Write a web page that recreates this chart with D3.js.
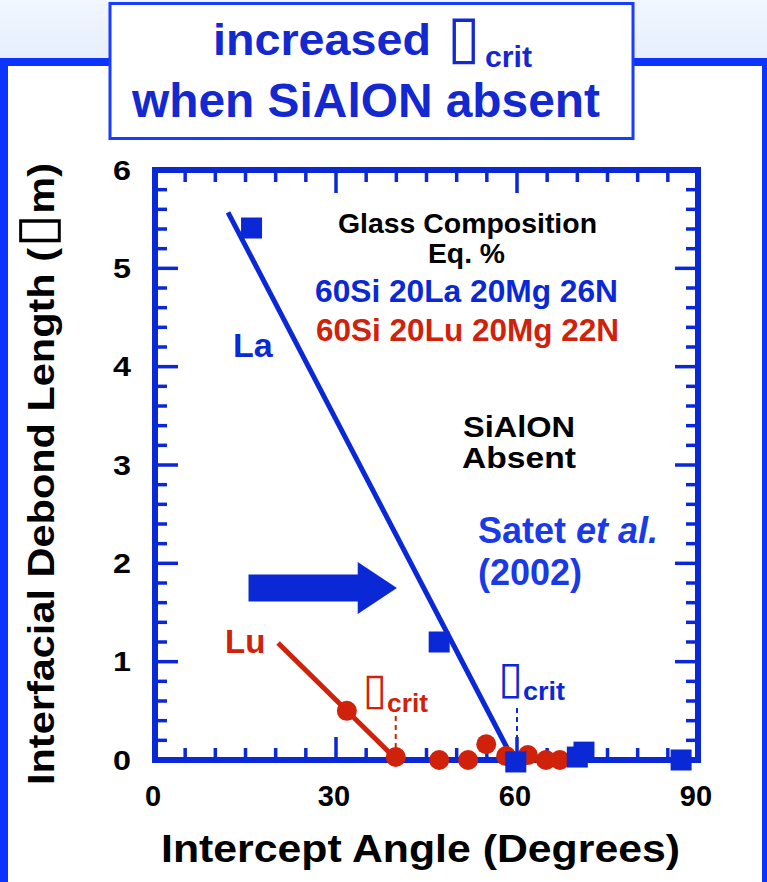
<!DOCTYPE html>
<html>
<head>
<meta charset="utf-8">
<script src="https://cdn.jsdelivr.net/npm/d3@7"></script>
<style>
  html, body { margin: 0; padding: 0; background: #fff; }
  svg { display: block; }
  text { font-family: "Liberation Sans", Arial, Helvetica, sans-serif; font-weight: bold; }
  .box { font-family: "DejaVu Sans"; font-weight: normal; }
</style>
</head>
<body>
<svg id="chart" width="767" height="882"></svg>
<script>
// Debond length vs. intercept angle for two oxynitride glasses
const xTicks = [0, 30, 60, 90];
const yTicks = [0, 1, 2, 3, 4, 5, 6];

// La glass (squares): [angle, debond length]
const laPoints = [[16.0, 5.41], [47.1, 1.20], [59.8, -0.02], [70.0, 0.03], [71.1, 0.08], [87.2, 0.0]];
// Lu glass (circles)
const luPoints = [[31.8, 0.50], [39.9, 0.03], [47.1, 0.0], [51.9, 0.0], [54.9, 0.16], [58.2, 0.04],
                  [60.0, -0.02], [61.8, 0.05], [64.8, 0.0], [67.1, 0.0]];
// Trend lines
const laTrend = [[12.1, 5.57], [59.4, 0.0]];
const luTrend = [[20.4, 1.19], [40.1, 0.0]];
// Critical angles
const critLa = 60.0;
const critLu = 39.9;

const BLUE = "#0a28d6";
const RED = "#d0220a";
const FRAME = "#0b34ff";
const TBLUE = "#1428d2";

const svg = d3.select("#chart");

// Background: pale gradient band above the frame
const defs = svg.append("defs");
const grad = defs.append("linearGradient").attr("id", "bg").attr("x1", 0).attr("y1", 0).attr("x2", 0).attr("y2", 1);
grad.append("stop").attr("offset", "0%").attr("stop-color", "#f1f7ff");
grad.append("stop").attr("offset", "100%").attr("stop-color", "#e5eefc");
svg.append("rect").attr("x", 0).attr("y", 0).attr("width", 767).attr("height", 62).attr("fill", "url(#bg)");

// Outer panel frame
svg.append("path")
  .attr("d", "M4,882 V62 H764.5 V882")
  .attr("fill", "none").attr("stroke", FRAME).attr("stroke-width", 8);
svg.append("rect").attr("x", 8).attr("y", 66).attr("width", 754).attr("height", 816).attr("fill", "#fff");

// Title box
svg.append("rect").attr("x", 110).attr("y", 3.5).attr("width", 523).attr("height", 135)
  .attr("fill", "#fff").attr("stroke", "#1a3cff").attr("stroke-width", 3);

// Symbol followed by a "crit" subscript placed right after the symbol's advance
function symbolWithSub(parent, opts) {
  const t = parent.append("text").attr("fill", opts.color);
  if (opts.lead) {
    t.append("tspan").attr("x", opts.lead.x).attr("y", opts.lead.y).attr("font-size", opts.lead.size)
      .attr("textLength", opts.lead.len).attr("lengthAdjust", "spacingAndGlyphs").text(opts.lead.text);
  }
  const sym = t.append("tspan").attr("class", "box").attr("y", opts.symBase)
    .attr("font-size", opts.symSize).text("▯");
  const adv = sym.node().getComputedTextLength();
  sym.attr("x", opts.subX - adv - opts.gap);
  t.append("tspan").attr("x", opts.subX).attr("y", opts.subBase).attr("font-size", opts.subSize)
    .attr("textLength", opts.subLen).attr("lengthAdjust", "spacingAndGlyphs").text("crit");
  return t;
}

symbolWithSub(svg, {
  color: TBLUE,
  lead: { x: 213, y: 55, size: 45, len: 218, text: "increased" },
  symBase: 57, symSize: 60, subX: 485, subBase: 67, subSize: 29, subLen: 47, gap: 5
});

svg.append("text").attr("x", 132).attr("y", 117).attr("font-size", 48).attr("fill", TBLUE)
  .attr("textLength", 468).attr("lengthAdjust", "spacingAndGlyphs")
  .text("when SiAlON absent");

// Scales
const x = d3.scaleLinear().domain([0, 90]).range([155, 698]);
const y = d3.scaleLinear().domain([0, 6]).range([760, 170]);

const plot = svg.append("g");

// Inward ticks on all four sides
const xMinor = d3.range(5, 90, 5);
const yMinor = d3.range(0.2, 6, 0.2).map(v => +v.toFixed(1));
const isMajorX = v => v % 30 === 0;
const isMajorY = v => Math.abs(v - Math.round(v)) < 1e-6;

plot.selectAll("line.xb").data(xMinor).join("line")
  .attr("x1", d => x(d)).attr("x2", d => x(d))
  .attr("y1", y(0)).attr("y2", d => y(0) - (isMajorX(d) ? 23 : 12))
  .attr("stroke", BLUE).attr("stroke-width", 3.5);
plot.selectAll("line.xt").data(xMinor).join("line")
  .attr("x1", d => x(d)).attr("x2", d => x(d))
  .attr("y1", y(6)).attr("y2", d => y(6) + (isMajorX(d) ? 23 : 12))
  .attr("stroke", BLUE).attr("stroke-width", 3.5);
plot.selectAll("line.yl").data(yMinor).join("line")
  .attr("y1", d => y(d)).attr("y2", d => y(d))
  .attr("x1", x(0)).attr("x2", d => x(0) + (isMajorY(d) ? 23 : 12))
  .attr("stroke", BLUE).attr("stroke-width", 3.5);
plot.selectAll("line.yr").data(yMinor).join("line")
  .attr("y1", d => y(d)).attr("y2", d => y(d))
  .attr("x1", x(90)).attr("x2", d => x(90) - (isMajorY(d) ? 23 : 12))
  .attr("stroke", BLUE).attr("stroke-width", 3.5);

// Plot frame
plot.append("rect").attr("x", x(0)).attr("y", y(6))
  .attr("width", x(90) - x(0)).attr("height", y(0) - y(6))
  .attr("fill", "none").attr("stroke", BLUE).attr("stroke-width", 6);

// Tick labels
svg.selectAll("text.xl").data(xTicks).join("text")
  .attr("x", d => x(d) - 2).attr("y", 806).attr("font-size", 29)
  .attr("text-anchor", "middle").attr("fill", "#000").text(d => d);
svg.selectAll("text.yl").data(yTicks).join("text")
  .attr("x", 131).attr("y", d => y(d) + 9.5).attr("font-size", 27)
  .attr("text-anchor", "end").attr("fill", "#000")
  .attr("textLength", 18).attr("lengthAdjust", "spacingAndGlyphs").text(d => d);

// Axis titles
svg.append("text").attr("x", 161).attr("y", 862).attr("font-size", 38).attr("fill", "#000")
  .attr("textLength", 519).attr("lengthAdjust", "spacingAndGlyphs")
  .text("Intercept Angle (Degrees)");
const yt = svg.append("text").attr("transform", "translate(54,785) rotate(-90)")
  .attr("font-size", 36).attr("fill", "#000")
  .attr("textLength", 622).attr("lengthAdjust", "spacingAndGlyphs");
yt.append("tspan").text("Interfacial Debond Length (");
yt.append("tspan").attr("class", "box").attr("font-size", 54).text("▯");
yt.append("tspan").text("m)");

// Trend lines
const line = d3.line().x(d => x(d[0])).y(d => y(d[1]));
plot.append("path").attr("d", line(laTrend)).attr("stroke", BLUE).attr("stroke-width", 5).attr("fill", "none");
plot.append("path").attr("d", line(luTrend)).attr("stroke", RED).attr("stroke-width", 5).attr("fill", "none");

// Critical-angle markers
plot.append("line").attr("x1", x(critLu)).attr("x2", x(critLu)).attr("y1", 716).attr("y2", 750)
  .attr("stroke", RED).attr("stroke-width", 2).attr("stroke-dasharray", "5,4");
plot.append("line").attr("x1", x(critLa)).attr("x2", x(critLa)).attr("y1", 708).attr("y2", 756)
  .attr("stroke", BLUE).attr("stroke-width", 2).attr("stroke-dasharray", "5,4");

symbolWithSub(svg, { color: RED, symBase: 704, symSize: 44, subX: 387, subBase: 712, subSize: 26, subLen: 41, gap: 0 });
symbolWithSub(svg, { color: BLUE, symBase: 693, symSize: 45, subX: 523, subBase: 700, subSize: 26, subLen: 42, gap: 0 });

// Data markers
const sq = 21;
plot.selectAll("circle.lu").data(luPoints).join("circle")
  .attr("cx", d => x(d[0])).attr("cy", d => y(d[1])).attr("r", 10).attr("fill", RED);
plot.selectAll("rect.la").data(laPoints).join("rect")
  .attr("x", d => x(d[0]) - sq / 2).attr("y", d => y(d[1]) - sq / 2)
  .attr("width", sq).attr("height", sq).attr("fill", BLUE);

// Annotations
function note(txt, px, py, size, color, opts = {}) {
  const t = svg.append("text").attr("x", px).attr("y", py).attr("font-size", size)
    .attr("fill", color).attr("text-anchor", opts.anchor || "start").text(txt);
  if (opts.len) t.attr("textLength", opts.len).attr("lengthAdjust", "spacingAndGlyphs");
  return t;
}
note("La", 233, 357, 34, BLUE);
note("Lu", 225, 653, 33, RED);
note("Glass Composition", 338, 233, 28, "#000", { len: 259 });
note("Eq. %", 428, 263, 28, "#000", { len: 77 });
note("60Si 20La 20Mg 26N", 315, 302, 31, BLUE, { len: 303 });
note("60Si 20Lu 20Mg 22N", 316, 341, 31, RED, { len: 303 });
note("SiAlON", 463, 437, 30, "#000", { len: 112 });
note("Absent", 462, 468, 30, "#000", { len: 114 });

const sat = svg.append("text").attr("x", 478).attr("y", 543).attr("font-size", 36).attr("fill", "#1a3ae8");
sat.append("tspan").text("Satet ");
sat.append("tspan").attr("font-style", "italic").text("et al.");
note("(2002)", 478, 585, 36, "#1a3ae8");

// Block arrow pointing toward larger critical angles
const ay = 1.75;
const arrow = [
  [x(15.5), y(ay) - 13.5], [x(33.6), y(ay) - 13.5], [x(33.6), y(ay) - 26],
  [x(40.1), y(ay)], [x(33.6), y(ay) + 26], [x(33.6), y(ay) + 13.5], [x(15.5), y(ay) + 13.5]
];
plot.append("path").attr("d", "M" + arrow.map(p => p.join(",")).join("L") + "Z").attr("fill", BLUE);
</script>
</body>
</html>
